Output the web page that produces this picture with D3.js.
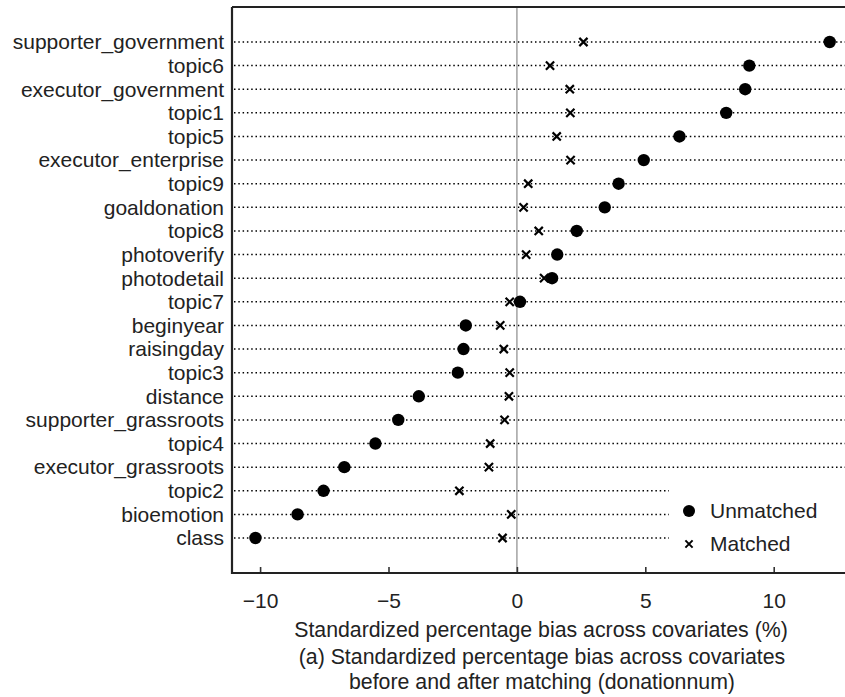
<!DOCTYPE html>
<html>
<head>
<meta charset="utf-8">
<script src="https://cdn.jsdelivr.net/npm/d3@7"></script>
<style>
  body { margin: 0; background: #fff; }
  text { font-family: "Liberation Sans", Arial, sans-serif; fill: #222; }
</style>
</head>
<body>
<svg id="chart" width="845" height="697"></svg>
<script>
"use strict";

// covariates, top to bottom
const covariates = [
  "supporter_government", "topic6", "executor_government", "topic1", "topic5",
  "executor_enterprise", "topic9", "goaldonation", "topic8", "photoverify",
  "photodetail", "topic7", "beginyear", "raisingday", "topic3", "distance",
  "supporter_grassroots", "topic4", "executor_grassroots", "topic2",
  "bioemotion", "class"
];

// standardized % bias before matching
const unmatched = [
  12.18, 9.05, 8.89, 8.15, 6.33,
  4.94, 3.96, 3.42, 2.33, 1.57,
  1.37, 0.12, -1.99, -2.08, -2.30, -3.82,
  -4.62, -5.51, -6.72, -7.53,
  -8.54, -10.18
];

// standardized % bias after matching
const matched = [
  2.59, 1.29, 2.06, 2.08, 1.55,
  2.09, 0.44, 0.26, 0.85, 0.36,
  1.06, -0.28, -0.65, -0.51, -0.28, -0.31,
  -0.48, -1.04, -1.09, -2.24,
  -0.22, -0.56
];

const xTicks = [-10, -5, 0, 5, 10];
const xTitle = "Standardized percentage bias across covariates (%)";
const caption = [
  "(a) Standardized percentage bias across covariates",
  "before and after matching (donationnum)"
];
const legendItems = ["Unmatched", "Matched"];

// frame
const frame = { left: 232, right: 845, top: 7, bottom: 573 };

const svg = d3.select("#chart");

// scales
const x = d3.scaleLinear()
    .domain([-11.094, 12.776])
    .range([frame.left, frame.right]);

const y = d3.scalePoint()
    .domain(covariates)
    .range([42, 538]);

const rows = covariates.map((c, i) => ({ name: c, u: unmatched[i], m: matched[i] }));

// dotted guide lines
svg.append("g")
    .selectAll("line")
    .data(rows)
  .enter().append("line")
    .attr("x1", frame.left + 2)
    .attr("x2", frame.right)
    .attr("y1", (d) => y(d.name))
    .attr("y2", (d) => y(d.name))
    .style("stroke", "#000")
    .style("stroke-width", 1.5)
    .style("stroke-dasharray", "1.5,2.8");

// zero reference line
svg.append("line")
    .attr("x1", x(0)).attr("x2", x(0))
    .attr("y1", frame.top).attr("y2", frame.bottom)
    .style("stroke", "#a8a8a8")
    .style("stroke-width", 1.6);

// legend background hides the guide lines behind it
svg.append("rect")
    .attr("x", 669).attr("y", 478)
    .attr("width", frame.right - 669).attr("height", 88)
    .style("fill", "#fff");

// unmatched points
svg.append("g")
    .selectAll("circle")
    .data(rows)
  .enter().append("circle")
    .attr("cx", (d) => x(d.u))
    .attr("cy", (d) => y(d.name))
    .attr("r", 6.2)
    .style("fill", "#000");

// matched crosses
const cross = (s) => `M${-s},${-s}L${s},${s}M${-s},${s}L${s},${-s}`;
svg.append("g")
    .selectAll("path")
    .data(rows)
  .enter().append("path")
    .attr("transform", (d) => `translate(${x(d.m)},${y(d.name)})`)
    .attr("d", cross(4.1))
    .style("stroke", "#000")
    .style("stroke-width", 2.2)
    .style("fill", "none");

// y labels
svg.append("g")
    .selectAll("text")
    .data(rows)
  .enter().append("text")
    .attr("x", 224)
    .attr("y", (d) => y(d.name))
    .attr("dy", "0.35em")
    .style("text-anchor", "end")
    .style("font-size", "21px")
    .text((d) => d.name);

// x axis, ticks pointing inward
const xAxis = d3.axisBottom(x)
    .tickValues(xTicks)
    .tickSizeInner(-6)
    .tickSizeOuter(0)
    .tickPadding(20)
    .tickFormat(d3.format("d"));

const gx = svg.append("g")
    .attr("transform", `translate(0,${frame.bottom})`)
    .call(xAxis);
gx.select(".domain").remove();
gx.selectAll(".tick line").style("stroke", "#333").style("stroke-width", 1.6);
gx.selectAll(".tick text")
    .style("font-size", "21px")
    .style("font-family", null)
    .attr("fill", null)
    .text((d) => d < 0 ? "\u2212" + Math.abs(d) : d);

// frame lines
const axisStroke = (sel) => sel.style("stroke", "#222").style("stroke-width", 2.2);
svg.append("line")
    .attr("x1", frame.left).attr("x2", frame.left)
    .attr("y1", frame.top).attr("y2", frame.bottom + 1)
    .call(axisStroke);
svg.append("line")
    .attr("x1", frame.left).attr("x2", frame.right)
    .attr("y1", frame.top).attr("y2", frame.top)
    .call(axisStroke);
svg.append("line")
    .attr("x1", frame.left - 1).attr("x2", frame.right)
    .attr("y1", frame.bottom).attr("y2", frame.bottom)
    .call(axisStroke);

// x title and caption
svg.append("text")
    .attr("x", 541).attr("y", 637)
    .style("text-anchor", "middle")
    .style("font-size", "21.3px")
    .text(xTitle);

svg.append("g")
    .selectAll("text")
    .data(caption)
  .enter().append("text")
    .attr("x", 542)
    .attr("y", (d, i) => 664 + i * 25)
    .style("text-anchor", "middle")
    .style("font-size", "21.3px")
    .text((d) => d);

// legend
const legend = svg.append("g");
legend.append("circle")
    .attr("cx", 689).attr("cy", 511).attr("r", 6)
    .style("fill", "#000");
legend.append("path")
    .attr("transform", "translate(689,544)")
    .attr("d", cross(3.6))
    .style("stroke", "#000")
    .style("stroke-width", 2);
legend.selectAll("text")
    .data(legendItems)
  .enter().append("text")
    .attr("x", 710)
    .attr("y", (d, i) => 511 + i * 33)
    .attr("dy", "0.35em")
    .style("font-size", "21px")
    .text((d) => d);
</script>
</body>
</html>
